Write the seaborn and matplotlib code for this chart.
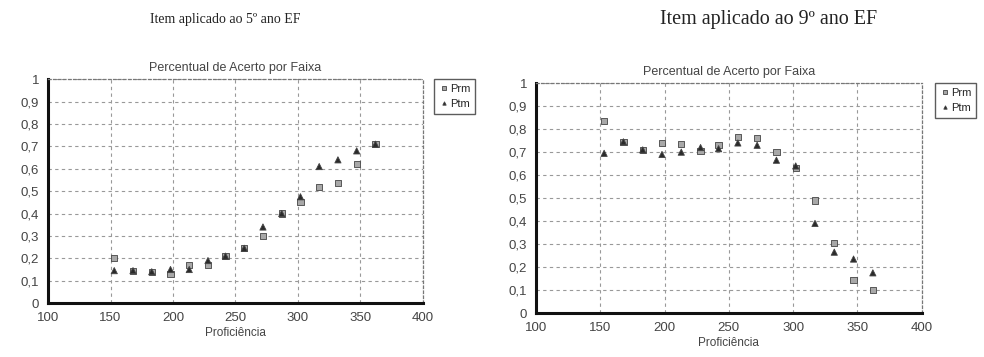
import matplotlib
matplotlib.use("Agg")
import matplotlib.pyplot as plt
import seaborn as sns
import pandas as pd
import numpy as np
from matplotlib.ticker import MultipleLocator, FuncFormatter

sns.set_style("white")
plt.rcParams['font.family'] = ['Liberation Sans', 'DejaVu Sans']

proficiencia = [153, 168, 183, 198, 213, 228, 242, 257, 272, 287, 302, 317, 332, 347, 362]

prm_5 = [0.20, 0.145, 0.14, 0.13, 0.17, 0.17, 0.21, 0.245, 0.30, 0.40, 0.45, 0.52, 0.535, 0.62, 0.71]
ptm_5 = [0.145, 0.145, 0.14, 0.15, 0.15, 0.19, 0.21, 0.245, 0.34, 0.40, 0.475, 0.61, 0.64, 0.68, 0.71]

prm_9 = [0.835, 0.745, 0.71, 0.74, 0.735, 0.705, 0.73, 0.765, 0.76, 0.70, 0.63, 0.49, 0.305, 0.145, 0.10]
ptm_9 = [0.695, 0.745, 0.71, 0.69, 0.70, 0.72, 0.715, 0.74, 0.73, 0.665, 0.64, 0.39, 0.265, 0.235, 0.175]

series_names = ["Prm", "Ptm"]
panel_titles = ["Item aplicado ao 5º ano EF", "Item aplicado ao 9º ano EF"]
chart_title = "Percentual de Acerto por Faixa"
x_label = "Proficiência"


def make_df(prm, ptm):
    return pd.DataFrame({
        "Proficiência": proficiencia * 2,
        "Acerto": prm + ptm,
        "Série": [series_names[0]] * len(prm) + [series_names[1]] * len(ptm),
    })


fig = plt.figure(figsize=(9.84, 3.57), dpi=100)
ax1 = fig.add_axes([0.0488, 0.151, 0.381, 0.627])
ax2 = fig.add_axes([0.5447, 0.123, 0.392, 0.644])

txt = '#444444'

def style_ax(ax, df, leg_anchor):
    sns.scatterplot(data=df, x="Proficiência", y="Acerto", hue="Série", style="Série",
                    markers={"Prm": "s", "Ptm": "^"},
                    palette={"Prm": "#a8a8a8", "Ptm": "#2a2a2a"},
                    s=20, edgecolor="#444444", linewidth=0.6, ax=ax, zorder=3)
    ax.set_xlim(100, 400)
    ax.set_ylim(0, 1)
    ax.xaxis.set_major_locator(MultipleLocator(50))
    ax.xaxis.set_minor_locator(MultipleLocator(10))
    ax.yaxis.set_major_locator(MultipleLocator(0.1))
    ax.yaxis.set_major_formatter(FuncFormatter(lambda v, p: ("%g" % round(v, 1)).replace('.', ',')))
    ax.grid(True, which='major', color='#999999', linestyle=(0, (3, 3)), linewidth=0.8)
    for side in ['left', 'bottom']:
        ax.spines[side].set_linewidth(2.2)
        ax.spines[side].set_color('#111111')
    for side in ['top', 'right']:
        ax.spines[side].set_visible(True)
        ax.spines[side].set_linewidth(0.9)
        ax.spines[side].set_color('#777777')
        ax.spines[side].set_linestyle((0, (2, 2)))
    ax.tick_params(axis='both', which='major', labelsize=9.5, colors=txt, length=3, direction='out')
    ax.tick_params(axis='x', which='minor', length=2, direction='out', colors='#555555')
    ax.set_xlabel(x_label, fontsize=8.5, color=txt, labelpad=2)
    ax.set_ylabel("")
    ax.set_title(chart_title, fontsize=9, color=txt, pad=6)
    h, l = ax.get_legend_handles_labels()
    ax.legend(h, l, loc='upper left', bbox_to_anchor=leg_anchor, fontsize=8,
              frameon=True, edgecolor='#333333', fancybox=False, borderpad=0.45,
              handletextpad=0.15, labelspacing=0.45, handlelength=0.8, markerscale=0.55,
              borderaxespad=0)

style_ax(ax1, make_df(prm_5, ptm_5), (1.03, 1.0))
style_ax(ax2, make_df(prm_9, ptm_9), (1.035, 1.0))

fig.text(0.229, 0.945, panel_titles[0], family=['Liberation Serif', 'DejaVu Serif'],
         fontsize=10, color='#222222', ha='center', va='center')
fig.text(0.781, 0.945, panel_titles[1], family=['Liberation Serif', 'DejaVu Serif'],
         fontsize=14.5, color='#222222', ha='center', va='center')

fig.savefig("out.png", dpi=100)
